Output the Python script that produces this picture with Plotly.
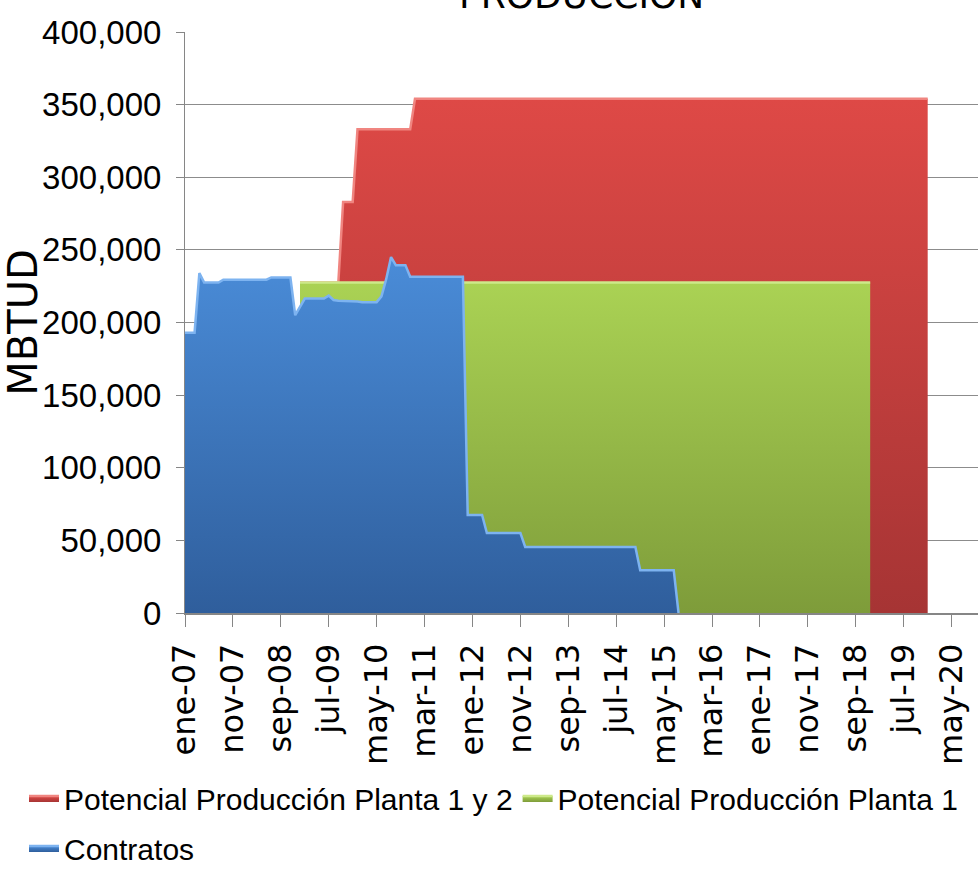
import plotly.graph_objects as go

# ---- data ----
MESES = ["ene", "feb", "mar", "abr", "may", "jun", "jul", "ago", "sep", "oct", "nov", "dic"]
meses = [f"{m}-{a:02d}" for a in range(7, 21) for m in MESES]   # ene-07 .. dic-20

tick_labels = ["ene-07", "nov-07", "sep-08", "jul-09", "may-10", "mar-11", "ene-12",
               "nov-12", "sep-13", "jul-14", "may-15", "mar-16", "ene-17", "nov-17",
               "sep-18", "jul-19", "may-20"]

potencial_1y2 = ([None] * 24 + [227500] * 9 + [283000] * 3 + [333000] * 12 +
                 [354000] * 108)
potencial_1 = [None] * 24 + [227500] * 120
contratos = ([193000] * 3 + [234000] + [227500] * 4 + [229500] * 10 + [231000] * 5 +
             [205000, 211000] + [216500] * 5 + [218500, 215500] +
             [215000, 215000, 214500, 214500, 214500, 214000, 214000, 214000, 214000] +
             [218000, 230000, 245000] + [239500] * 3 + [231500] * 12 +
             [67500] * 4 + [55000] * 8 + [45500] * 24 + [29500] * 8 + [0])


def pad(vals):
    return vals + [None] * (len(meses) - len(vals))


NARROW = "Liberation Sans, Arial, sans-serif"
WIDE = "DejaVu Sans, Verdana, sans-serif"

fig = go.Figure()
series = [
    ("Potencial Producción Planta 1 y 2", potencial_1y2, "#A63434", "#DE4946", "#F08580", "legend"),
    ("Potencial Producción Planta 1", potencial_1, "#7E9C3A", "#AAD254", "#CDE98A", "legend"),
    ("Contratos", contratos, "#2F5E9C", "#4A8CD8", "#7DB3F0", "legend2"),
]
for name, vals, c0, c1, cl, lg in series:
    top = max(v for v in vals if v is not None)
    fig.add_trace(go.Scatter(
        x=meses, y=pad(vals), name=name, mode="lines",
        line=dict(color=cl, width=2.5),
        fill="tozeroy",
        fillgradient=dict(type="vertical", start=0, stop=top,
                          colorscale=[[0, c0], [1, c1]]),
        fillcolor=c1,
        legend=lg,
        hoverinfo="x+y+name",
    ))

fig.add_annotation(text="PRODUCCIÓN", xref="paper", yref="paper", x=0.5, y=1.024,
                   xanchor="center", yanchor="bottom", showarrow=False,
                   font=dict(family=WIDE, size=36, color="black"))

legend_style = dict(orientation="h", xref="paper", yref="paper",
                    x=(24 - 185) / 793, xanchor="left", yanchor="top",
                    font=dict(family=NARROW, size=30, color="black"),
                    itemwidth=30, tracegroupgap=0, bgcolor="rgba(0,0,0,0)")

fig.update_layout(
    width=978, height=887,
    margin=dict(l=185, r=0, t=32, b=274, autoexpand=False),
    paper_bgcolor="white", plot_bgcolor="white",
    showlegend=True,
    legend=dict(legend_style, y=(613 - 772) / 581),
    legend2=dict(legend_style, y=(613 - 822) / 581),
    xaxis=dict(type="category", categoryorder="array", categoryarray=meses,
               range=[0, 165.5], tickvals=tick_labels, ticktext=tick_labels,
               tickangle=-90, ticks="outside", ticklen=12, tickcolor="#868686",
               showline=True, linecolor="#868686", linewidth=1.5, showgrid=False,
               automargin=False,
               tickfont=dict(family=WIDE, size=32, color="black"),
               ticklabelstandoff=4),
    yaxis=dict(range=[0, 400000], dtick=50000, tickformat=",", ticks="outside",
               ticklen=8, tickcolor="#868686", showline=True, linecolor="#868686",
               linewidth=1, gridcolor="#8C8C8C", gridwidth=1, zeroline=False,
               automargin=False,
               tickfont=dict(family=NARROW, size=33, color="black"),
               ticklabelstandoff=8,
               title=dict(text="MBTUD", standoff=0,
                          font=dict(family=WIDE, size=40, color="black"))),
)

fig.write_html("out.html", config={"displayModeBar": False},
               post_script="document.body.style.margin='0';document.body.style.padding='0';")
